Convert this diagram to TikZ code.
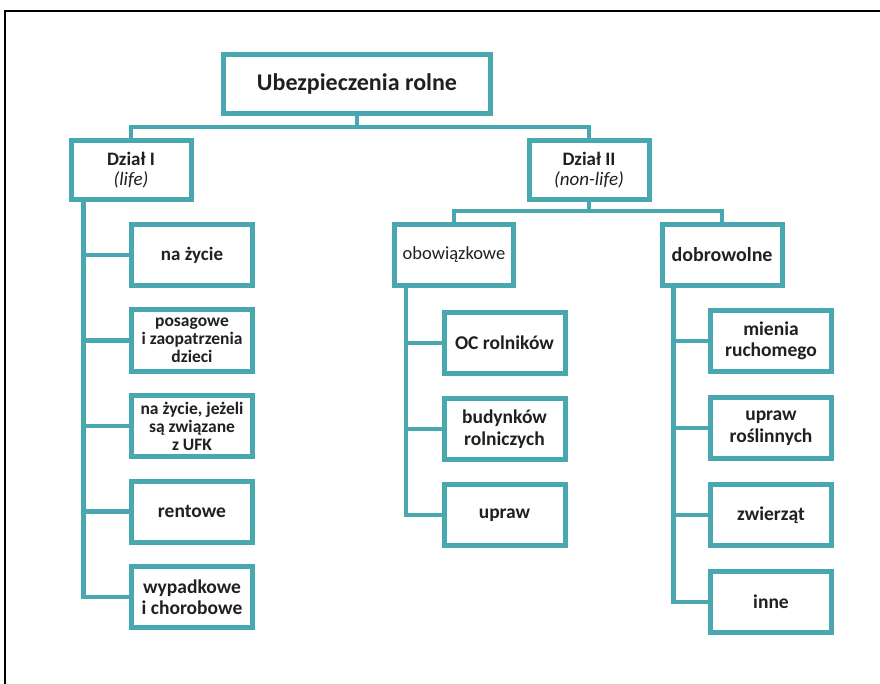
\documentclass[tikz,border=0pt]{standalone}
\usepackage{fontspec}
\setmainfont{Carlito}
\usepackage{tikz}
\usetikzlibrary{positioning,calc}
\definecolor{morski}{RGB}{72,167,175}
\definecolor{tekst}{RGB}{35,31,32}
\tikzset{
  box/.style={draw=morski, line width=5pt, fill=white, align=center, text=tekst,
    inner sep=2pt, font=\bfseries\fontsize{19.5}{21.5}\selectfont},
  leaf/.style={box, minimum width=121pt, minimum height=61pt},
  gesty/.style={font=\bfseries\fontsize{17.5}{18}\selectfont},
  mid/.style={box, minimum width=120pt, minimum height=59pt, font=\bfseries\fontsize{19}{19.5}\selectfont},
  link/.style={draw=morski, line width=4.5pt},
  ramka/.style={draw=black, line width=1.5pt}
}
\begin{document}
\begin{tikzpicture}[x=1pt, y=-1pt]
  \useasboundingbox (0,0) rectangle (880,684);
  \draw[ramka] (5,684) -- (5,11) -- (880,11);
  % korzen
  \node[box, minimum width=267pt, minimum height=59pt, font=\bfseries\fontsize{24}{28}\selectfont] (root) at (357,84) {Ubezpieczenia rolne};
  \node[mid] (dz1) at (131,170) {Dział I\\ \normalfont\itshape (life)};
  \node[mid] (dz2) at (589,170) {Dział II\\ \normalfont\itshape (non-life)};
  \draw[link] (root.south) -- ++(0,11) coordinate (bus) -| (dz1.north);
  \draw[link] (bus) -| (dz2.north);
  % dzial I
  \node[leaf, font=\bfseries\fontsize{19}{21}\selectfont] (zycie) at (192,255) {na życie};
  \node[leaf, gesty, below=19.5pt of zycie] (posag) {posagowe\\ i zaopatrzenia\\ dzieci};
  \node[leaf, gesty, below=19.5pt of posag] (ufk) {na życie, jeżeli\\ są związane\\ z UFK};
  \node[leaf, below=19.5pt of ufk] (rent) {rentowe};
  \node[leaf, below=19.5pt of rent] (wyp) {wypadkowe\\ i chorobowe};
  \coordinate (s1) at ($(dz1.south west)+(15,0)$);
  \foreach \n in {zycie,posag,ufk,rent,wyp}
    \draw[link] (s1) |- (\n.west);
  % dzial II
  \node[leaf, minimum width=119pt, font=\fontsize{18.5}{20}\selectfont] (obow) at (454,255) {obowiązkowe};
  \node[leaf, minimum width=120pt, font=\bfseries\fontsize{20}{22}\selectfont] (dobr) at (722,255) {dobrowolne};
  \draw[link] (dz2.south) -- ++(0,9) coordinate (bus2) -| (obow.north);
  \draw[link] (bus2) -| (dobr.north);
  \node[leaf] (oc) at (504.5,343) {OC rolników};
  \node[leaf, below=20pt of oc] (bud) {budynków\\ rolniczych};
  \node[leaf, below=20pt of bud] (upr) {upraw};
  \coordinate (s2) at ($(obow.south west)+(14,0)$);
  \foreach \n in {oc,bud,upr}
    \draw[link] (s2) |- (\n.west);
  \node[leaf] (mien) at (771,341) {mienia\\ ruchomego};
  \node[leaf, below=21pt of mien] (rosl) {upraw\\ roślinnych};
  \node[leaf, below=21pt of rosl] (zwie) {zwierząt};
  \node[leaf, below=21pt of zwie] (inne) {inne};
  \coordinate (s3) at ($(dobr.south west)+(14,0)$);
  \foreach \n in {mien,rosl,zwie,inne}
    \draw[link] (s3) |- (\n.west);
\end{tikzpicture}
\end{document}
